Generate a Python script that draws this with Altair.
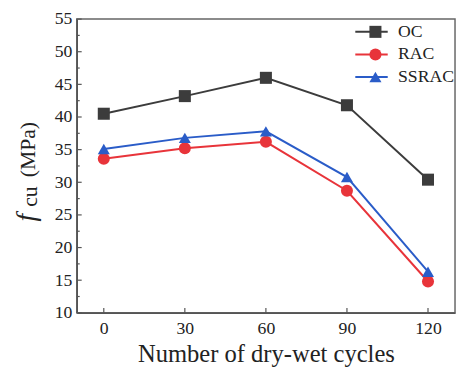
import altair as alt
import pandas as pd

cycles = [0, 30, 60, 90, 120]
series_names = ["OC", "RAC", "SSRAC"]
oc = [40.5, 43.2, 46.0, 41.8, 30.4]
rac = [33.6, 35.2, 36.2, 28.7, 14.8]
ssrac = [35.1, 36.8, 37.8, 30.8, 16.3]
colors = ["#3c3c3c", "#e8343a", "#2a5cc8"]
shapes = ["square", "circle", "triangle-up"]

y_major = [10, 15, 20, 25, 30, 35, 40, 45, 50, 55]
y_minor = [12.5, 17.5, 22.5, 27.5, 32.5, 37.5, 42.5, 47.5, 52.5]
x_major = [0, 30, 60, 90, 120]

rows = []
for name, vals in zip(series_names, [oc, rac, ssrac]):
    for c, v in zip(cycles, vals):
        rows.append({"cycles": c, "fcu": v, "series": name, "series_line": name})
df = pd.DataFrame(rows)

FONT = "Liberation Serif"
W, H = 385, 299

xscale = alt.Scale(domain=[-10, 130], nice=False, zero=False)
yscale = alt.Scale(domain=[10, 55], nice=False, zero=False)

xaxis = alt.Axis(values=x_major, title="Number of dry-wet cycles", ticks=False, grid=False,
                 labelFont=FONT, labelFontSize=18, labelColor="#222", labelPadding=7,
                 labelOverlap=False, titleFont=FONT, titleFontSize=25,
                 titleFontWeight="normal", titleColor="#222", titlePadding=5,
                 domainColor="#555", domainWidth=1.5)
yaxis = alt.Axis(values=y_major, title=None, ticks=False, grid=False,
                 labelFont=FONT, labelFontSize=18, labelColor="#222", labelPadding=5,
                 labelOverlap=False, domainColor="#555", domainWidth=1.5)

base = alt.Chart(df)

lines = base.mark_line(strokeWidth=2).encode(
    x=alt.X("cycles:Q", scale=xscale, axis=xaxis),
    y=alt.Y("fcu:Q", scale=yscale, axis=yaxis),
    stroke=alt.Stroke("series_line:N",
                      scale=alt.Scale(range=colors),
                      legend=alt.Legend(title=None, orient="none", legendX=291, legendY=4,
                                        symbolType="M-3,0H3", symbolSize=121,
                                        symbolStrokeWidth=2, labelFont=FONT,
                                        labelFontSize=18, labelColor="#222",
                                        labelOffset=18, rowPadding=5, padding=0)),
)

leg_pts = dict(title=None, orient="none", legendX=295, legendY=4,
               symbolSize=150, labelFont=FONT, labelFontSize=18,
               labelExpr="''", rowPadding=5, padding=0, symbolStrokeWidth=0)

points = base.mark_point(filled=True, size=150, opacity=1).encode(
    x=alt.X("cycles:Q", scale=xscale, axis=xaxis),
    y=alt.Y("fcu:Q", scale=yscale, axis=yaxis),
    color=alt.Color("series:N", scale=alt.Scale(domain=series_names, range=colors),
                    legend=alt.Legend(**leg_pts)),
    shape=alt.Shape("series:N", scale=alt.Scale(domain=series_names, range=shapes),
                    legend=alt.Legend(**leg_pts)),
)

ymaj = alt.Chart(pd.DataFrame({"v": y_major})).mark_rule(color="#555", strokeWidth=1.2).encode(
    y=alt.Y("v:Q", scale=yscale, axis=yaxis), x=alt.value(0), x2=alt.value(5))
ymin = alt.Chart(pd.DataFrame({"v": y_minor})).mark_rule(color="#555", strokeWidth=1.2).encode(
    y=alt.Y("v:Q", scale=yscale, axis=yaxis), x=alt.value(0), x2=alt.value(3))
xmaj = alt.Chart(pd.DataFrame({"v": x_major})).mark_rule(color="#555", strokeWidth=1.2).encode(
    x=alt.X("v:Q", scale=xscale, axis=xaxis), y=alt.value(H), y2=alt.value(H - 5))

t_f = alt.Chart(pd.DataFrame({"t": ["f"]})).mark_text(
    font=FONT, fontSize=28, fontStyle="italic", angle=270, align="left",
    baseline="alphabetic", color="#222").encode(
    text="t:N", x=alt.value(-43), y=alt.value(206))
t_cu = alt.Chart(pd.DataFrame({"t": ["cu"]})).mark_text(
    font=FONT, fontSize=22, angle=270, align="left",
    baseline="alphabetic", color="#222").encode(
    text="t:N", x=alt.value(-40), y=alt.value(191))
t_mpa = alt.Chart(pd.DataFrame({"t": ["(MPa)"]})).mark_text(
    font=FONT, fontSize=22, angle=270, align="left",
    baseline="alphabetic", color="#222").encode(
    text="t:N", x=alt.value(-43), y=alt.value(161))

chart = alt.layer(lines, points, ymaj, ymin, xmaj, t_f, t_cu, t_mpa).properties(
    width=W, height=H,
    background="white",
    autosize=alt.AutoSizeParams(type="none"),
    padding={"left": 70, "top": 8, "right": 1, "bottom": 60},
).configure_view(stroke="#666", strokeWidth=1.5)

chart.save("out.html", embed_options={"renderer": "svg", "actions": False})
